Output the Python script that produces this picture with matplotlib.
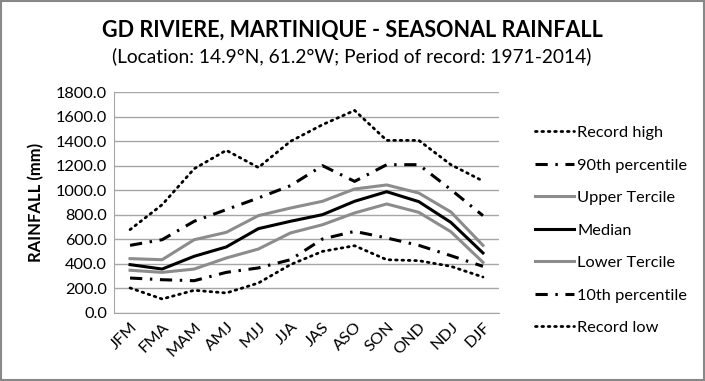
import matplotlib.pyplot as plt
from matplotlib.patches import Rectangle

plt.rcParams['font.family'] = ['Lato', 'DejaVu Sans']

seasons = ['JFM', 'FMA', 'MAM', 'AMJ', 'MJJ', 'JJA', 'JAS', 'ASO', 'SON', 'OND', 'NDJ', 'DJF']
record_high = [679, 882, 1175, 1325, 1185, 1398, 1534, 1650, 1406, 1406, 1208, 1075]
p90 = [551, 597, 747, 842, 937, 1037, 1200, 1072, 1208, 1208, 1005, 793]
upper_tercile = [443, 434, 597, 657, 793, 855, 910, 1010, 1043, 977, 823, 551]
median = [394, 358, 462, 538, 687, 747, 801, 910, 988, 907, 738, 489]
lower_tercile = [348, 331, 358, 448, 521, 652, 719, 815, 888, 820, 662, 413]
p10 = [285, 271, 263, 331, 367, 434, 603, 665, 611, 551, 467, 380]
record_low = [204, 114, 185, 163, 244, 394, 502, 548, 434, 426, 380, 293]

fig = plt.figure(figsize=(7.05, 3.81), dpi=100)
ax = fig.add_axes([114 / 705, 1 - 313 / 381, 385 / 705, 221 / 381])

x = range(len(seasons))
dot = (0, (0.6, 1.7))
dashdot = (0, (4, 2.5, 0.8, 2.5))
ax.plot(x, record_high, color='black', lw=2, linestyle=dot, dash_capstyle='round', label='Record high')
ax.plot(x, p90, color='black', lw=2.2, linestyle=dashdot, label='90th percentile')
ax.plot(x, upper_tercile, color='#8c8c8c', lw=2.2, label='Upper Tercile')
ax.plot(x, median, color='black', lw=2.2, label='Median')
ax.plot(x, lower_tercile, color='#8c8c8c', lw=2.2, label='Lower Tercile')
ax.plot(x, p10, color='black', lw=2.2, linestyle=dashdot, label='10th percentile')
ax.plot(x, record_low, color='black', lw=2, linestyle=dot, dash_capstyle='round', label='Record low')

ax.set_xlim(-0.5, len(seasons) - 0.5)
ax.set_ylim(0, 1800)
ax.set_yticks(range(0, 1801, 200))
ax.set_yticklabels([f'{v:.1f}' for v in range(0, 1801, 200)], fontsize=11.8)
ax.set_xticks(list(x))
ax.set_xticklabels(seasons, rotation=45, ha='right', rotation_mode='anchor', fontsize=11.8)
ax.tick_params(length=0, pad=5)
ax.grid(axis='y', color='#a6a6a6', lw=1)
ax.set_axisbelow(True)
for s in ['top', 'right']:
    ax.spines[s].set_visible(False)
for s in ['left', 'bottom']:
    ax.spines[s].set_color('#a6a6a6')
ax.set_ylabel('RAINFALL (mm)', fontsize=12, fontweight='bold', labelpad=8)

ax.legend(loc='upper left', bbox_to_anchor=(520 / 705, 1 - 111 / 381), bbox_transform=fig.transFigure,
          frameon=False, fontsize=11.8, handlelength=2.4, handletextpad=0.2, labelspacing=1.1)

fig.text(352 / 705, 1 - 30 / 381, 'GD RIVIERE, MARTINIQUE - SEASONAL RAINFALL', ha='center', va='center',
         fontsize=15.5, fontweight='bold')
fig.text(352 / 705, 1 - 56 / 381, '(Location: 14.9°N, 61.2°W; Period of record: 1971-2014)', ha='center',
         va='center', fontsize=13.8)

fig.patches.append(Rectangle((0.001, 0.002), 0.997, 0.995, transform=fig.transFigure, fill=False,
                             edgecolor='#888888', lw=1.5))

fig.savefig('out.png', dpi=100)
